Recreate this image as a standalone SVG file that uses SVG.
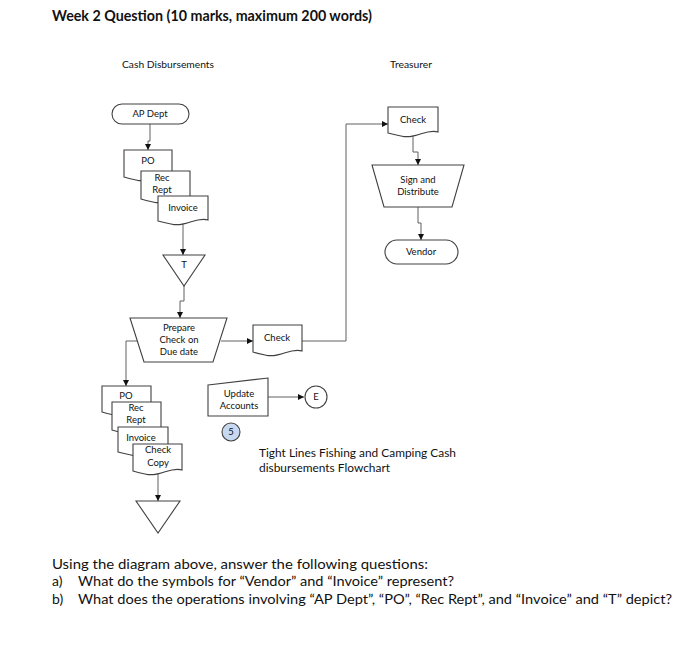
<svg xmlns="http://www.w3.org/2000/svg" width="700" height="645" viewBox="0 0 700 645">
<style>
.s{fill:#fff;stroke:#404040;stroke-width:1.1}
.c{fill:none;stroke:#606060;stroke-width:1}
.t{font-family:Lato,"Open Sans",sans-serif;font-size:9.5px;fill:#111;text-anchor:middle}
.h{font-family:Lato,"Open Sans",sans-serif;font-size:9.5px;fill:#111}
.q{font-family:Lato,"Open Sans",sans-serif;font-size:14px;fill:#111}
.f{font-family:Lato,"Open Sans",sans-serif;font-size:11.5px;fill:#111}
</style>
<defs>
<marker id="a" viewBox="0 0 10 10" refX="10" refY="5" markerWidth="6" markerHeight="6" orient="auto" markerUnits="userSpaceOnUse"><path d="M0,0 L10,5 L0,10 Z" fill="#111"/></marker>
</defs>
<rect width="700" height="645" fill="#fff"/>
<text x="52" y="21" font-family="Lato,'Open Sans',sans-serif" font-size="15" font-weight="bold" fill="#111" textLength="320" lengthAdjust="spacingAndGlyphs">Week 2 Question (10 marks, maximum 200 words)</text>
<text class="h" x="122" y="68" textLength="92" lengthAdjust="spacingAndGlyphs">Cash Disbursements</text>
<text class="h" x="390" y="68" textLength="42" lengthAdjust="spacingAndGlyphs">Treasurer</text>

<g id="connectors">
<path class="c" d="M150,124 V141 H148 V150" marker-end="url(#a)"/>
<path class="c" d="M183,222 V255" marker-end="url(#a)"/>
<path class="c" d="M184,286 V301 H180 V318" marker-end="url(#a)"/>
<path class="c" d="M221,341 H253" marker-end="url(#a)"/>
<path class="c" d="M302,341 H346 V124 H388" marker-end="url(#a)"/>
<path class="c" d="M413,133 V152 H418 V165" marker-end="url(#a)"/>
<path class="c" d="M418,207 V223 H421 V240" marker-end="url(#a)"/>
<path class="c" d="M137,341 H126 V386" marker-end="url(#a)"/>
<path class="c" d="M158,471 V501" marker-end="url(#a)"/>
<path class="c" d="M268,397 H304" marker-end="url(#a)"/>
</g>

<g id="apdept"><rect class="s" x="112" y="104" width="77" height="20" rx="10"/><text class="t" x="150" y="117">AP Dept</text></g>

<g id="po1"><path class="s" d="M124,150 H172 V176 C160,172 150,184 136,180 C131,179 127,178 124,177 Z"/><text class="t" x="148" y="164">PO</text></g>
<g id="recrept1"><path class="s" d="M141,171 H190 V198 C178,194 168,206 153,202 C148,201 144,200 141,199 Z"/><text class="t" x="162" y="181">Rec</text><text class="t" x="162" y="193">Rept</text></g>
<g id="invoice1"><path class="s" d="M158,196 H208 V220 C196,216 186,228 171,224 C166,223 162,222 158,221 Z"/><text class="t" x="183" y="211">Invoice</text></g>

<g id="t"><path class="s" d="M163,255 H205 L184,286 Z"/><text class="t" x="184" y="268">T</text></g>

<g id="prepare"><path class="s" d="M130,318 H227 L213,362 H144 Z"/><text class="t" x="179" y="331">Prepare</text><text class="t" x="179" y="343">Check on</text><text class="t" x="179" y="355">Due date</text></g>

<g id="check1"><path class="s" d="M253,325 H302 V351 C290,347 280,359 265,355 C260,354 256,353 253,352 Z"/><text class="t" x="277" y="341">Check</text></g>

<g id="check2"><path class="s" d="M388,107 H438 V132 C426,128 416,140 401,136 C396,135 392,134 388,133 Z"/><text class="t" x="413" y="123">Check</text></g>

<g id="sign"><path class="s" d="M372,165 H464 L452,207 H384 Z"/><text class="t" x="418" y="183">Sign and</text><text class="t" x="418" y="195">Distribute</text></g>

<g id="vendor"><rect class="s" x="385" y="240" width="73" height="24" rx="12"/><text class="t" x="421" y="255">Vendor</text></g>

<g id="po2"><path class="s" d="M102,386 H151 V411 C139,407 129,419 114,415 C109,414 105,413 102,412 Z"/><text class="t" x="126" y="399">PO</text></g>
<g id="recrept2"><path class="s" d="M112,402 H161 V429 C149,425 139,437 124,433 C119,432 115,431 112,430 Z"/><text class="t" x="136" y="411">Rec</text><text class="t" x="136" y="423">Rept</text></g>
<g id="invoice2"><path class="s" d="M118,427 H168 V451 C156,447 146,459 131,455 C126,454 122,453 118,452 Z"/><text class="t" x="141" y="441">Invoice</text></g>
<g id="checkcopy"><path class="s" d="M133,444 H182 V470 C170,466 160,478 145,474 C140,473 136,472 133,471 Z"/><text class="t" x="158" y="453">Check</text><text class="t" x="158" y="466">Copy</text></g>

<g id="t2"><path class="s" d="M136,501 H180 L158,533 Z"/></g>

<g id="update"><path class="s" d="M208,385 L268,378 V416 H208 Z"/><text class="t" x="239" y="397">Update</text><text class="t" x="239" y="409">Accounts</text></g>

<g id="e"><circle class="s" cx="316" cy="397" r="11"/><text class="t" x="316" y="400">E</text></g>

<g id="five"><circle cx="231" cy="432" r="9" fill="#c6d9f0" stroke="#404040" stroke-width="1.1"/><text class="t" x="231" y="435">5</text></g>

<text class="f" x="259" y="457" textLength="197" lengthAdjust="spacingAndGlyphs">Tight Lines Fishing and Camping Cash</text>
<text class="f" x="259" y="472" textLength="131" lengthAdjust="spacingAndGlyphs">disbursements  Flowchart</text>

<text class="q" x="52" y="569" textLength="376" lengthAdjust="spacingAndGlyphs">Using the diagram above, answer the following questions:</text>
<text class="q" x="52" y="586">a)</text>
<text class="q" x="78" y="586" textLength="376" lengthAdjust="spacingAndGlyphs">What do the symbols for “Vendor” and “Invoice” represent?</text>
<text class="q" x="52" y="604">b)</text>
<text class="q" x="78" y="604" textLength="594" lengthAdjust="spacingAndGlyphs">What does the operations involving “AP Dept”, “PO”, “Rec Rept”, and “Invoice” and “T” depict?</text>
</svg>
